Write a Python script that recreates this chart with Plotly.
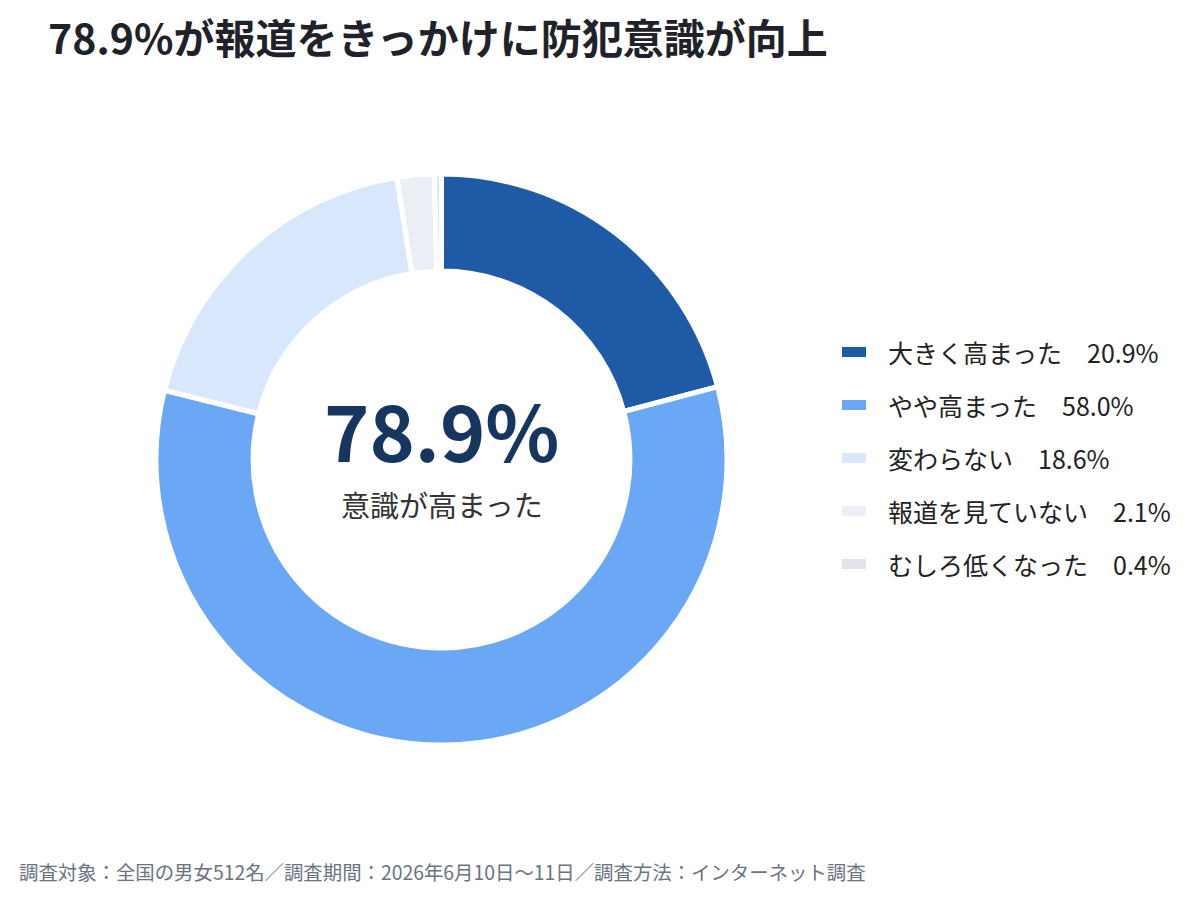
import plotly.graph_objects as go

labels = ["大きく高まった", "やや高まった", "変わらない", "報道を見ていない", "むしろ低くなった"]
values = [20.9, 58.0, 18.6, 2.1, 0.4]
colors = ["#1f5aa6", "#6aa7f5", "#d8e7fc", "#eceef5", "#e0e3eb"]

title_text = "78.9%が報道をきっかけに防犯意識が向上"
center_value = "78.9%"
center_label = "意識が高まった"
footer_text = "調査対象：全国の男女512名／調査期間：2026年6月10日〜11日／調査方法：インターネット調査"

W, H = 1200, 898
FONT = "Noto Sans CJK JP"

fig = go.Figure()
fig.add_trace(go.Pie(
    labels=labels,
    values=values,
    sort=False,
    direction="clockwise",
    rotation=0,
    hole=0.66,
    marker=dict(colors=colors, line=dict(color="white", width=5)),
    textinfo="none",
    hoverinfo="label+percent",
    showlegend=False,
    domain=dict(x=[156 / W, 727 / W], y=[(438.5 - 285.5) / H, (438.5 + 285.5) / H]),
))

annotations = []
shapes = []

# custom legend
leg_y0 = 352
leg_dy = 53
for i, (lab, val, col) in enumerate(zip(labels, values, colors)):
    yc = leg_y0 + i * leg_dy
    shapes.append(dict(type="rect", xref="paper", yref="paper",
                       x0=842 / W, x1=866 / W,
                       y0=1 - (yc + 5) / H, y1=1 - (yc - 5) / H,
                       fillcolor=col, line=dict(width=0)))
    annotations.append(dict(xref="paper", yref="paper", x=886 / W, y=1 - yc / H,
                            xanchor="left", yanchor="middle", showarrow=False,
                            text=f"{lab}　{val:.1f}%",
                            font=dict(family=FONT, size=25, color="#222222")))

# title
annotations.append(dict(xref="paper", yref="paper", x=46 / W, y=1 - 36 / H,
                        xanchor="left", yanchor="middle", showarrow=False,
                        text=f"<b>{title_text}</b>",
                        font=dict(family=FONT, size=41, color="#1f2329")))
# center text
annotations.append(dict(xref="paper", yref="paper", x=441.5 / W, y=1 - 429 / H,
                        xanchor="center", yanchor="middle", showarrow=False,
                        text=f"<b>{center_value}</b>",
                        font=dict(family=FONT, size=77, color="#16365f")))
annotations.append(dict(xref="paper", yref="paper", x=441.5 / W, y=1 - 504 / H,
                        xanchor="center", yanchor="middle", showarrow=False,
                        text=center_label,
                        font=dict(family=FONT, size=29, color="#333333")))
# footer
annotations.append(dict(xref="paper", yref="paper", x=17 / W, y=1 - 871 / H,
                        xanchor="left", yanchor="middle", showarrow=False,
                        text=footer_text,
                        font=dict(family=FONT, size=19.4, color="#6b7280")))

fig.update_layout(
    width=W, height=H,
    margin=dict(l=0, r=0, t=0, b=0),
    paper_bgcolor="white",
    plot_bgcolor="white",
    annotations=annotations,
    shapes=shapes,
    font=dict(family=FONT),
)

fig.write_html("out.html")
